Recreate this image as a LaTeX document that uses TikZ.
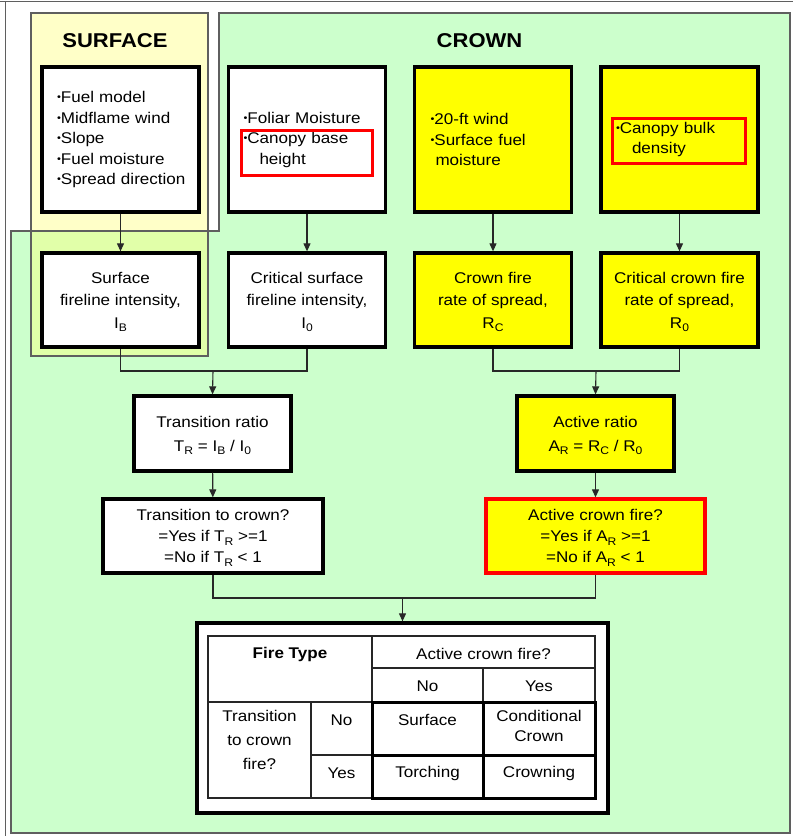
\documentclass[tikz,border=0pt]{standalone}
\usepackage{fontspec}
\setmainfont{Liberation Sans}[FakeStretch=1.1]
\usetikzlibrary{arrows.meta}
\definecolor{bgreen}{RGB}{204,255,204}
\definecolor{pyellow}{RGB}{255,255,121}
\definecolor{byellow}{RGB}{255,255,0}
\definecolor{hred}{RGB}{255,0,0}
\definecolor{edgegray}{RGB}{95,95,95}
\definecolor{conncol}{RGB}{40,40,40}
\newcommand{\bul}{\raisebox{1.6pt}{\scalebox{0.65}{•}}}
\newcommand{\sbs}[1]{\raisebox{-3.8pt}[\height][0pt]{\fontsize{11}{11}\selectfont #1}}
\tikzset{
  box/.style={draw=black, line width=3.3pt, fill=white, inner sep=0pt},
  inbox/.style={box, text width=133pt, inner xsep=12pt, minimum height=145pt, align=left},
  midbox/.style={box, minimum width=157pt, minimum height=94pt, align=center, font=\fontsize{15.5}{22.5}\selectfont},
  conn/.style={draw=conncol, line width=1.1pt},
  arr/.style={conn, -{Triangle[length=8pt,width=7pt]}},
  hl/.style={draw=hred, line width=3pt},
  title/.style={font=\fontsize{20}{20}\selectfont\bfseries},
  cell/.style={align=center, inner sep=0pt},
  tline/.style={draw=black!85, line width=1.1pt},
  tthick/.style={draw=black, line width=3pt}
}
\begin{document}
\begin{tikzpicture}[x=1pt,y=-1pt, font=\fontsize{15.5}{20.5}\selectfont]
\useasboundingbox (0,0) rectangle (793,836);
% window lines
\draw[edgegray, line width=1pt] (0,1) -- (793,1);
\draw[edgegray, line width=1pt] (5,1) -- (5,836);
% green crown region
\fill[bgreen] (219,13) -- (790,13) -- (790,833) -- (11,833) -- (11,231) -- (219,231) -- cycle;
% yellow surface region
\fill[pyellow, fill opacity=0.41] (31,13) rectangle (208,356);
\draw[edgegray, line width=1.6pt] (219,13) -- (790,13) -- (790,833) -- (11,833) -- (11,231) -- (219,231) -- cycle;
\draw[edgegray, line width=1.2pt] (31,13) rectangle (208,356);
% titles
\node[title] (tsurf) at (115,41) {SURFACE};
\node[title] (tcrown) at (479.5,41) {CROWN};
% input boxes
\node[inbox] (in1) at (120.5,139.5) {\hspace*{3pt}\bul Fuel model\\ \hspace*{3pt}\bul Midflame wind\\ \hspace*{3pt}\bul Slope\\ \hspace*{3pt}\bul Fuel moisture\\ \hspace*{3pt}\bul Spread direction};
\node[inbox] (in2) at (307,139.5) {\hspace*{3pt}\bul Foliar Moisture\\ \hspace*{3pt}\bul Canopy base\\ \hspace*{19pt}height};
\node[inbox, fill=byellow] (in3) at (493,139.5) {\hspace*{4pt}\bul 20-ft wind\\ \hspace*{4pt}\bul Surface fuel\\ \hspace*{9pt}moisture};
\node[inbox, fill=byellow] (in4) at (679.5,139.5) {\hspace*{3pt}\bul Canopy bulk\\ \hspace*{19pt}density};
\draw[hl] (241,130) rectangle (372,175);
\draw[hl] (612,118) rectangle (745,163);
% second row
\node[midbox] (sfi) at (120.5,300) {Surface\\ fireline intensity,\\ I\sbs{B}};
\node[midbox] (csfi) at (307,300) {Critical surface\\ fireline intensity,\\ I\sbs{0}};
\node[midbox, fill=byellow] (cfr) at (493,300) {Crown fire\\ rate of spread,\\ R\sbs{C}};
\node[midbox, fill=byellow] (ccfr) at (679.5,300) {Critical crown fire\\ rate of spread,\\ R\sbs{0}};
% ratios
\node[midbox, minimum height=75pt, font=\fontsize{15.5}{24}\selectfont] (tr) at (212.5,433.5) {Transition ratio\\ T\sbs{R} = I\sbs{B} / I\sbs{0}};
\node[midbox, fill=byellow, minimum height=75pt, font=\fontsize{15.5}{24}\selectfont] (ar) at (595.5,433.5) {Active ratio\\ A\sbs{R} = R\sbs{C} / R\sbs{0}};
\node[midbox, minimum width=220pt, minimum height=74pt, font=\fontsize{15.5}{21}\selectfont] (ttc) at (213,536) {Transition to crown?\\ =Yes if T\sbs{R} >=1\\ =No if T\sbs{R} < 1};
\node[midbox, fill=byellow, draw=hred, minimum width=219pt, minimum height=74pt, font=\fontsize{15.5}{21}\selectfont] (acf) at (595.5,536) {Active crown fire?\\ =Yes if A\sbs{R} >=1\\ =No if A\sbs{R} < 1};
% fire type table box
\node[box, minimum width=411pt, minimum height=190pt] (ft) at (402.5,718) {};
% table grid
\draw[tline] (208,636) rectangle (595,798);
\draw[tline] (372,636) -- (372,798);
\draw[tline] (311,702) -- (311,798);
\draw[tline] (483,668) -- (483,798);
\draw[tline] (372,668) -- (595,668);
\draw[tline] (208,702) -- (595,702);
\draw[tline] (311,755) -- (595,755);
\draw[tthick] (372,702) rectangle (595,798);
\draw[tthick] (483,702) -- (483,798);
\draw[tthick] (372,755) -- (595,755);
% table texts
\node[cell, font=\fontsize{15.5}{20.5}\selectfont\bfseries] (c11) at (290,654) {Fire Type};
\node[cell] (c12) at (483.5,654) {Active crown fire?};
\node[cell] (c22) at (427.5,686) {No};
\node[cell] (c23) at (539,686) {Yes};
\node[cell, anchor=north, font=\fontsize{15.5}{24}\selectfont] (c31) at (259.5,710) {Transition\\ to crown\\ fire?};
\node[cell] (c32) at (341.5,720) {No};
\node[cell] (c42) at (341.5,773) {Yes};
\node[cell] (c33) at (427.5,720) {Surface};
\node[cell, anchor=north] (c34) at (539,710) {Conditional\\ Crown};
\node[cell] (c43) at (427.5,773) {Torching};
\node[cell] (c44) at (539,773) {Crowning};
% connectors
\draw[arr] (in1) -- (sfi);
\draw[arr] (in2) -- (csfi);
\draw[arr] (in3) -- (cfr);
\draw[arr] (in4) -- (ccfr);
\coordinate (m1) at (213,371);
\coordinate (m2) at (596,371);
\draw[conn] (sfi.south) |- (m1) -| (csfi.south);
\draw[conn] (cfr.south) |- (m2) -| (ccfr.south);
\draw[arr] (m1) -- (tr.north);
\draw[arr] (m2) -- (ar.north);
\draw[arr] (tr) -- (ttc);
\draw[arr] (ar) -- (acf);
\coordinate (m3) at (402.5,598);
\draw[conn] (ttc.south) |- (m3) -| (acf.south);
\draw[arr] (m3) -- (ft.north);
\end{tikzpicture}
\end{document}
